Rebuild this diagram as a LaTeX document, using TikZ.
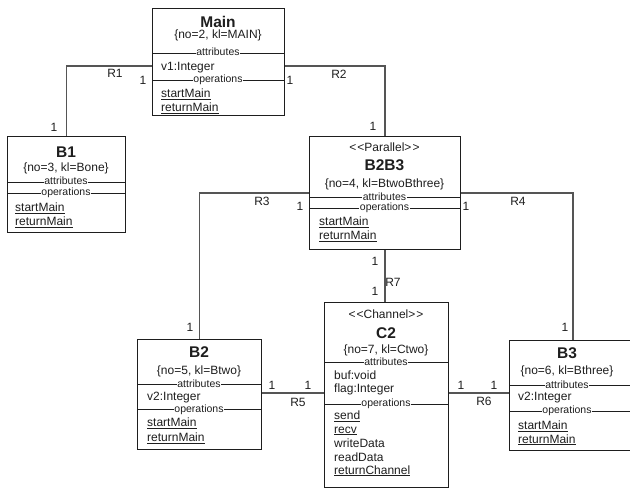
\documentclass[tikz,border=0pt]{standalone}
\usepackage{fontspec}
\setmainfont{Liberation Sans}
\usetikzlibrary{calc}
\definecolor{ink}{RGB}{30,30,30}
\definecolor{wire}{RGB}{85,85,85}
\newcommand{\stereo}[1]{<\kern1pt<#1>\kern1pt>}
\begin{document}
\begin{tikzpicture}[x=1pt,y=-1pt,
  cls/.style={draw=ink, line width=0.9pt, anchor=north west, inner sep=0pt, fill=white},
  divline/.style={draw=ink, line width=0.9pt},
  conn/.style={draw=wire, line width=1.1pt},
  sect/.style={fill=white, inner sep=0.5pt, text=ink, font=\fontsize{10.5}{10.5}\selectfont},
  title/.style={anchor=base, inner sep=0pt, text=ink, font=\fontsize{15.5}{15.5}\selectfont\bfseries},
  txt/.style={anchor=base, inner sep=0pt, text=ink, font=\fontsize{12}{12}\selectfont},
  item/.style={anchor=base west, inner sep=0pt, text=ink, font=\fontsize{12}{12}\selectfont},
  mult/.style={inner sep=0pt, text=ink, font=\fontsize{12}{12}\selectfont}
]
\useasboundingbox (0,0) rectangle (630,489);

% class boxes
\node[cls, minimum width=132pt, minimum height=107pt] (main) at (152,8) {};
\node[cls, minimum width=118pt, minimum height=96pt]  (b1)   at (7,136) {};
\node[cls, minimum width=151pt, minimum height=113pt] (b2b3) at (309,136) {};
\node[cls, minimum width=124pt, minimum height=185pt] (c2)   at (324,302) {};
\node[cls, minimum width=124pt, minimum height=110pt] (b2)   at (137,339) {};
\node[cls, minimum width=123pt, minimum height=110pt] (b3)   at (509,340) {};

% associations
\draw[conn] (main.west |- 0,66) -| (b1.north);
\draw[conn] (main.east |- 0,66) -| (b2b3.north);
\draw[conn] (b2b3.west |- 0,193) -| (b2.north);
\draw[conn] (b2b3.east |- 0,193) -| ($(b3.north west)+(64,0)$);
\draw[conn] (b2b3.south) -- (b2b3.south |- c2.north);
\draw[conn] (b2.east |- 0,393) -- (c2.west |- 0,393);
\draw[conn] (c2.east |- 0,393) -- (b3.west |- 0,393);

% association labels and multiplicities
\node[mult] (r1)  at (115,73) {R1};
\node[mult] (r1a) at (143,80) {1};
\node[mult] (r1b) at (54,127) {1};
\node[mult] (r2)  at (339,74) {R2};
\node[mult] (r2a) at (290,80) {1};
\node[mult] (r2b) at (373,126) {1};
\node[mult] (r3)  at (262,201) {R3};
\node[mult] (r3a) at (300,206) {1};
\node[mult] (r3b) at (190,327) {1};
\node[mult] (r4)  at (518,201) {R4};
\node[mult] (r4a) at (466,206) {1};
\node[mult] (r4b) at (565,327) {1};
\node[mult] (r7)  at (393,282) {R7};
\node[mult] (r7a) at (375,261) {1};
\node[mult] (r7b) at (375,291) {1};
\node[mult] (r5)  at (298,402) {R5};
\node[mult] (r5a) at (272,385) {1};
\node[mult] (r5b) at (308,385) {1};
\node[mult] (r6)  at (484,401) {R6};
\node[mult] (r6a) at (461,385) {1};
\node[mult] (r6b) at (494,385) {1};

% ---- Main
\node[title] (main-n) at (218,27.5) {Main};
\node[txt]   (main-k) at (218,39) {\{no=2, kl=MAIN\}};
\draw[divline] (main.west |- 0,53) -- (main.east |- 0,53);
\node[sect] (main-at) at (218,52) {attributes};
\node[item] (main-v1) at (161,71) {v1:Integer};
\draw[divline] (main.west |- 0,80) -- (main.east |- 0,80);
\node[sect] (main-op) at (218,79.5) {operations};
\node[item] (main-s) at (161,98) {\underline{startMain}};
\node[item] (main-r) at (161,112) {\underline{returnMain}};

% ---- B1
\node[title] (b1-n) at (66,157.5) {B1};
\node[txt]   (b1-k) at (66,172) {\{no=3, kl=Bone\}};
\draw[divline] (b1.west |- 0,182) -- (b1.east |- 0,182);
\node[sect] (b1-at) at (66,181) {attributes};
\draw[divline] (b1.west |- 0,193) -- (b1.east |- 0,193);
\node[sect] (b1-op) at (66,192.5) {operations};
\node[item] (b1-s) at (15,212) {\underline{startMain}};
\node[item] (b1-r) at (15,226) {\underline{returnMain}};

% ---- B2B3
\node[txt]   (b2b3-st) at (384.5,152) {\stereo{Parallel}};
\node[title] (b2b3-n)  at (384.5,171) {B2B3};
\node[txt]   (b2b3-k)  at (384.5,187.5) {\{no=4, kl=BtwoBthree\}};
\draw[divline] (b2b3.west |- 0,197) -- (b2b3.east |- 0,197);
\node[sect] (b2b3-at) at (384.5,196.5) {attributes};
\draw[divline] (b2b3.west |- 0,208) -- (b2b3.east |- 0,208);
\node[sect] (b2b3-op) at (384.5,207.5) {operations};
\node[item] (b2b3-s) at (319,226) {\underline{startMain}};
\node[item] (b2b3-r) at (319,240) {\underline{returnMain}};

% ---- C2
\node[txt]   (c2-st) at (386,319) {\stereo{Channel}};
\node[title] (c2-n)  at (386,338.5) {C2};
\node[txt]   (c2-k)  at (386,354) {\{no=7, kl=Ctwo\}};
\draw[divline] (c2.west |- 0,362) -- (c2.east |- 0,362);
\node[sect] (c2-at) at (386,362) {attributes};
\node[item] (c2-a1) at (334,380) {buf:void};
\node[item] (c2-a2) at (334,393) {flag:Integer};
\draw[divline] (c2.west |- 0,404) -- (c2.east |- 0,404);
\node[sect] (c2-op) at (386,404) {operations};
\node[item] (c2-o1) at (334,420) {\underline{send}};
\node[item] (c2-o2) at (334,433) {\underline{recv}};
\node[item] (c2-o3) at (334,447) {writeData};
\node[item] (c2-o4) at (334,461) {readData};
\node[item] (c2-o5) at (334,474) {\underline{returnChannel}};

% ---- B2
\node[title] (b2-n) at (199,358) {B2};
\node[txt]   (b2-k) at (199,374.5) {\{no=5, kl=Btwo\}};
\draw[divline] (b2.west |- 0,384) -- (b2.east |- 0,384);
\node[sect] (b2-at) at (199,384) {attributes};
\node[item] (b2-v2) at (147,400.5) {v2:Integer};
\draw[divline] (b2.west |- 0,409) -- (b2.east |- 0,409);
\node[sect] (b2-op) at (199,409.5) {operations};
\node[item] (b2-s) at (147,427) {\underline{startMain}};
\node[item] (b2-r) at (147,442) {\underline{returnMain}};

% ---- B3
\node[title] (b3-n) at (567,359) {B3};
\node[txt]   (b3-k) at (567,374.5) {\{no=6, kl=Bthree\}};
\draw[divline] (b3.west |- 0,385) -- (b3.east |- 0,385);
\node[sect] (b3-at) at (567,385) {attributes};
\node[item] (b3-v2) at (518,401) {v2:Integer};
\draw[divline] (b3.west |- 0,411) -- (b3.east |- 0,411);
\node[sect] (b3-op) at (567,411) {operations};
\node[item] (b3-s) at (518,430) {\underline{startMain}};
\node[item] (b3-r) at (518,443) {\underline{returnMain}};
\end{tikzpicture}
\end{document}
